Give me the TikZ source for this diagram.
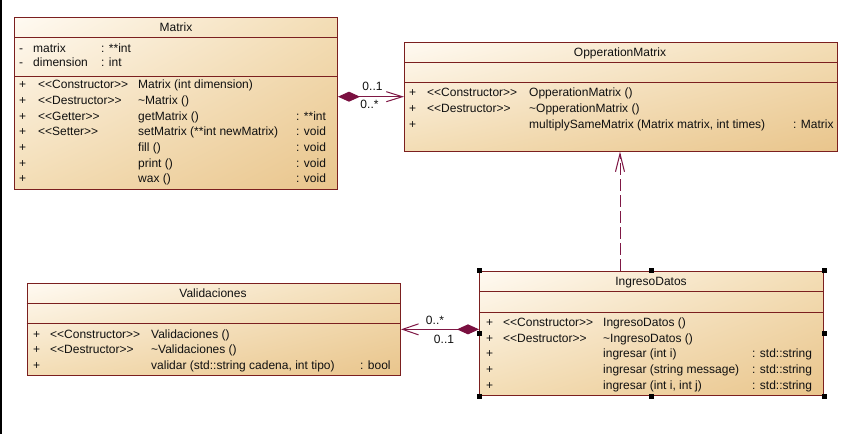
\documentclass[tikz,border=0pt]{standalone}
\usepackage{fontspec}
\setmainfont{Liberation Sans}
\usetikzlibrary{arrows.meta,shadings,calc}
\definecolor{bord}{HTML}{7B1F1F}
\definecolor{conn}{HTML}{7F1845}
\definecolor{dia}{HTML}{7A1040}
\definecolor{cA}{HTML}{FFFAF2}
\definecolor{cB}{HTML}{F3DDB5}
\definecolor{cC}{HTML}{E9C58C}
\definecolor{ink}{HTML}{101010}
\newcounter{tc}
\newcommand\tx[3]{\stepcounter{tc}\node[txt] (t\arabic{tc}) at (#1,#2+4) {#3};}
\newcommand\ttl[3]{\stepcounter{tc}\node[ttltxt] (t\arabic{tc}) at (#1,#2+4) {#3};}
\newcommand\stereo[1]{<{}<#1>{}>}
\begin{document}
\begin{tikzpicture}[x=1pt,y=-1pt,
 classbox/.style={draw=bord, line width=1pt, rectangle, inner sep=0pt, anchor=north west,
   upper left=cA, upper right=cB, lower left=cB, lower right=cC},
 sepline/.style={draw=bord, line width=1pt},
 txt/.style={anchor=base west, inner sep=0pt, font=\fontsize{12}{13}\selectfont, text=ink},
 ttltxt/.style={txt, anchor=base},
 lbl/.style={inner sep=0pt, font=\fontsize{12}{13}\selectfont, text=ink},
 handle/.style={fill=black, draw=none, inner sep=0pt, minimum size=5pt},
 assoc/.style={draw=conn, line width=1pt},
]
\fill[white] (0,0) rectangle (854,434);
\useasboundingbox (0,0) rectangle (854,434);
\draw[black, line width=1.5pt] (0.75,0) -- (0.75,434);

% ---------- Matrix ----------
\node[classbox, minimum width=323pt, minimum height=172pt] (matrix) at (14,17) {};
\draw[sepline] ($(matrix.north west)+(0,20)$) -- ($(matrix.north east)+(0,20)$);
\draw[sepline] ($(matrix.north west)+(0,59)$) -- ($(matrix.north east)+(0,59)$);
\ttl{176}{27}{Matrix}
\tx{19}{48}{-}\tx{33}{48}{matrix}\tx{101}{48}{: **int}
\tx{19}{62}{-}\tx{33}{62}{dimension}\tx{101}{62}{: int}
\tx{19}{84}{+}\tx{38}{84}{\stereo{Constructor}}\tx{138}{84}{Matrix (int dimension)}
\tx{19}{100}{+}\tx{38}{100}{\stereo{Destructor}}\tx{138}{100}{\textasciitilde Matrix ()}
\tx{19}{116}{+}\tx{38}{116}{\stereo{Getter}}\tx{138}{116}{getMatrix ()}\tx{296}{116}{: **int}
\tx{19}{131}{+}\tx{38}{131}{\stereo{Setter}}\tx{138}{131}{setMatrix (**int newMatrix)}\tx{296}{131}{: void}
\tx{19}{147}{+}\tx{138}{147}{fill ()}\tx{296}{147}{: void}
\tx{19}{163}{+}\tx{138}{163}{print ()}\tx{296}{163}{: void}
\tx{19}{178}{+}\tx{138}{178}{wax ()}\tx{296}{178}{: void}

% ---------- OpperationMatrix ----------
\node[classbox, minimum width=433pt, minimum height=109pt] (oppm) at (404,41.7) {};
\draw[sepline] ($(oppm.north west)+(0,20.6)$) -- ($(oppm.north east)+(0,20.6)$);
\draw[sepline] ($(oppm.north west)+(0,40.6)$) -- ($(oppm.north east)+(0,40.6)$);
\ttl{620}{52}{OpperationMatrix}
\tx{409}{92}{+}\tx{427}{92}{\stereo{Constructor}}\tx{529}{92}{OpperationMatrix ()}
\tx{409}{108}{+}\tx{427}{108}{\stereo{Destructor}}\tx{529}{108}{\textasciitilde OpperationMatrix ()}
\tx{409}{124}{+}\tx{529}{124}{multiplySameMatrix (Matrix matrix, int times)}\tx{793}{124}{: Matrix}

% ---------- Validaciones ----------
\node[classbox, minimum width=373.3pt, minimum height=92.3pt] (valid) at (26.7,282.7) {};
\draw[sepline] ($(valid.north west)+(0,20.6)$) -- ($(valid.north east)+(0,20.6)$);
\draw[sepline] ($(valid.north west)+(0,40.6)$) -- ($(valid.north east)+(0,40.6)$);
\ttl{213}{293}{Validaciones}
\tx{33}{334}{+}\tx{50}{334}{\stereo{Constructor}}\tx{151}{334}{Validaciones ()}
\tx{33}{349}{+}\tx{50}{349}{\stereo{Destructor}}\tx{151}{349}{\textasciitilde Validaciones ()}
\tx{33}{365}{+}\tx{151}{365}{validar (std::string cadena, int tipo)}\tx{360}{365}{: bool}

% ---------- IngresoDatos ----------
\node[classbox, minimum width=344.3pt, minimum height=124.6pt] (ingreso) at (479,270.7) {};
\draw[sepline] ($(ingreso.north west)+(0,21)$) -- ($(ingreso.north east)+(0,21)$);
\draw[sepline] ($(ingreso.north west)+(0,41.6)$) -- ($(ingreso.north east)+(0,41.6)$);
\ttl{651}{281}{IngresoDatos}
\tx{486}{322}{+}\tx{503}{322}{\stereo{Constructor}}\tx{603}{322}{IngresoDatos ()}
\tx{486}{338}{+}\tx{503}{338}{\stereo{Destructor}}\tx{603}{338}{\textasciitilde IngresoDatos ()}
\tx{486}{353}{+}\tx{603}{353}{ingresar (int i)}\tx{752}{353}{: std::string}
\tx{486}{369}{+}\tx{603}{369}{ingresar (string message)}\tx{752}{369}{: std::string}
\tx{486}{385}{+}\tx{603}{385}{ingresar (int i, int j)}\tx{752}{385}{: std::string}

% ---------- connectors ----------
\draw[assoc, {Diamond[length=22pt,width=10pt,fill=dia,color=dia]}-{Straight Barb[length=16pt,width=10pt]}]
  (matrix.east |- oppm.west) -- (oppm.west);
\node[lbl] (m1) at (372.5,86) {0..1};
\node[lbl] (m2) at (369.5,104) {0..*};

\draw[assoc, {Straight Barb[length=16pt,width=11pt]}-{Diamond[length=22pt,width=10pt,fill=dia,color=dia]}]
  (valid.east) -- (ingreso.west |- valid.east);
\node[lbl] (v1) at (435,320) {0..*};
\node[lbl] (v2) at (444,339) {0..1};

\coordinate (dx) at (620,0);
\draw[assoc, dash pattern=on 12pt off 4pt, -{Straight Barb[length=18pt,width=9pt]}]
  (dx |- ingreso.north) -- (dx |- oppm.south);

% selection handles
\foreach \a [count=\i] in {north west,north,north east,east,south east,south,south west,west}
  \node[handle] (h\i) at (ingreso.\a) {};
\end{tikzpicture}
\end{document}
